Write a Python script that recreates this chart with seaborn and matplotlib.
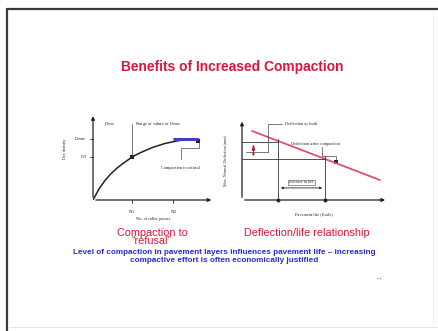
import matplotlib
matplotlib.use("Agg")
import matplotlib.pyplot as plt
import seaborn as sns
import pandas as pd
from matplotlib.lines import Line2D

sns.set_theme(style="white")
plt.rcParams['font.family'] = ['Liberation Sans', 'DejaVu Sans']

# ---- data ----
title = "Benefits of Increased Compaction"
passes = [0, 0.5, 1, 1.5, 2, 2.5, 3, 3.5, 4, 5, 6, 7, 8, 8.75]
density = [0, 1.3, 2.3, 3.1, 3.75, 4.3, 4.8, 5.25, 5.6, 6.2, 6.65, 6.95, 7.15, 7.2]
n_ticks = [3.25, 6.7]
n_labels = ["N$_1$", "N$_2$"]
d_ticks = [5.06, 7.2]
d_labels = ["D$_1$", "D$_{max}$"]
life = [0.7, 9.65]
deflection = [8.85, 2.56]
life_marks = [2.52, 5.8]
defl_marks = [7.44, 5.26]
caption_left = "Compaction to\n\u201crefusal\u201d"
caption_right = "Deflection/life relationship"
body = ("Level of compaction in pavement layers influences pavement life \u2013 increasing\n"
        "compactive effort is often economically justified")

W, H = 439, 331
fig = plt.figure(figsize=(W / 100, H / 100), dpi=100)
fig.patch.set_facecolor("white")

def fx(px):
    return px / W

def fy(py):
    return 1 - py / H

# slide frame
fig.add_artist(Line2D([fx(7), fx(7)], [fy(9), 0], color="#3a3a3a", lw=1.6))
fig.add_artist(Line2D([fx(7), 1], [fy(9), fy(9)], color="#3a3a3a", lw=1.6))
fig.add_artist(Line2D([fx(433), fx(433)], [fy(12), fy(325)], color="#eeeeee", lw=0.8))
fig.add_artist(Line2D([fx(9), 1], [fy(327), fy(327)], color="#e6e6e6", lw=0.8))

red = "#d8173c"
blue = "#2a2ad0"
fig.text(fx(232), fy(67), title, color=red, fontsize=9.9, fontweight="bold",
         ha="center", va="center")

# ---- left diagram ----
axL = fig.add_axes([fx(93), fy(200), fx(120), 85 / H])
axL.set_xlim(0, 10)
axL.set_ylim(0, 10)
for s in axL.spines.values():
    s.set_visible(False)
axL.set_xticks([])
axL.set_yticks([])
axL.patch.set_alpha(0)
axL.annotate("", xy=(10.1, 0), xytext=(0, 0),
             arrowprops=dict(arrowstyle="-|>", lw=0.9, color="#222", mutation_scale=5),
             annotation_clip=False)
axL.annotate("", xy=(0, 10.2), xytext=(0, 0),
             arrowprops=dict(arrowstyle="-|>", lw=0.9, color="#222", mutation_scale=5),
             annotation_clip=False)
dfL = pd.DataFrame({"passes": passes, "density": density})
sns.lineplot(data=dfL, x="passes", y="density", ax=axL, color="#222", lw=1.1)
axL.plot([n_ticks[1], passes[-1]], [density[-1], density[-1]], color="#4040c0", lw=2.2,
         solid_capstyle="butt")
sns.scatterplot(x=[n_ticks[0], passes[-1]], y=[d_ticks[0], d_ticks[1] - 0.3], ax=axL,
                color="#222", s=6, marker="s", linewidth=0)
# tick marks and labels
for x, lab in zip(n_ticks, n_labels):
    axL.plot([x, x], [0, -0.3], color="#222", lw=0.6, clip_on=False)
    axL.text(x, -0.9, lab, fontsize=3.5, ha="center", va="top", family="Liberation Serif")
for y, lab in zip(d_ticks, d_labels):
    axL.plot([0, -0.25], [y, y], color="#222", lw=0.6, clip_on=False)
    axL.text(-0.5, y, lab, fontsize=3.5, ha="right", va="center", family="Liberation Serif")
axL.plot([n_ticks[0], n_ticks[0]], [d_ticks[0], 8.9], color="#444", lw=0.5)
axL.text(0.9, 8.9, "D$_{min}$", fontsize=3.2, va="center", family="Liberation Serif")
axL.text(3.5, 8.9, "Range of values of D$_{max}$", fontsize=3.2, va="center",
         family="Liberation Serif")
axL.plot([passes[-1] + 0.05, passes[-1] + 0.05, 7.3, 7.3],
         [6.8, 6.1, 6.1, 4.8], color="#444", lw=0.5)
axL.text(7.3, 3.8, "Compaction to refusal", fontsize=3.2, ha="center", va="center",
         family="Liberation Serif")
axL.text(5, -2.0, "No. of roller passes", fontsize=3.2, ha="center", va="top",
         family="Liberation Serif")
axL.text(-2.3, 6, "Dry density", fontsize=3.2, ha="center", va="center", rotation=90,
         family="Liberation Serif")

# ---- right diagram ----
axR = fig.add_axes([fx(242), fy(200), fx(143), 78 / H])
axR.set_xlim(0, 10)
axR.set_ylim(0, 10)
for s in axR.spines.values():
    s.set_visible(False)
axR.set_xticks([])
axR.set_yticks([])
axR.patch.set_alpha(0)
axR.annotate("", xy=(10.2, 0), xytext=(0, 0),
             arrowprops=dict(arrowstyle="-|>", lw=0.9, color="#222", mutation_scale=5),
             annotation_clip=False)
axR.annotate("", xy=(0, 10.4), xytext=(0, 0),
             arrowprops=dict(arrowstyle="-|>", lw=0.9, color="#222", mutation_scale=5),
             annotation_clip=False)
dfR = pd.DataFrame({"life": life, "deflection": deflection})
sns.lineplot(data=dfR, x="life", y="deflection", ax=axR, color="#e0506a", lw=1.3)
for x, y in zip(life_marks, defl_marks):
    axR.plot([0, x], [y, y], color="#333", lw=0.6)
    axR.plot([x, x], [y + 0.4, 0], color="#333", lw=0.6)
sns.scatterplot(x=life_marks, y=[0, 0], ax=axR, color="#222", s=8, linewidth=0,
                clip_on=False)
axR.annotate("", xy=(0.8, defl_marks[1]), xytext=(0.8, defl_marks[0]),
             arrowprops=dict(arrowstyle="<|-|>", lw=0.6, color="#c01030", mutation_scale=3))
sns.scatterplot(x=[0.8], y=[6.6], ax=axR, color="#c01030", s=6, linewidth=0)
# callouts
axR.plot([1.85, 1.85, 2.8, 2.8], [6.2, 9.8, 9.8, 9.8], color="#444", lw=0.5, clip_on=False)
axR.plot([0.3, 1.85], [6.2, 6.2], color="#444", lw=0.5)
axR.text(3.0, 9.8, "Deflection as built", fontsize=3.2, va="center",
         family="Liberation Serif")
axR.text(3.4, 7.2, "Deflection after compaction", fontsize=3.2, va="center",
         family="Liberation Serif")
axR.plot([5.6, 5.6, 6.6, 6.6], [6.8, 5.6, 5.6, 4.9], color="#444", lw=0.5)
sns.scatterplot(x=[6.6], y=[4.9], ax=axR, color="#222", s=6, marker="s", linewidth=0)
axR.annotate("", xy=(life_marks[1], 1.55), xytext=(life_marks[0], 1.55),
             arrowprops=dict(arrowstyle="<|-|>", lw=0.6, color="#222", mutation_scale=3))
axR.text(sum(life_marks) / 2, 2.25, "Increase in life", fontsize=3.0, ha="center",
         va="center", family="Liberation Serif",
         bbox=dict(boxstyle="square,pad=0.2", fc="white", ec="#444", lw=0.4))
axR.text(5, -1.6, "Pavement life (Esals)", fontsize=3.2, ha="center", va="top",
         family="Liberation Serif")
axR.text(-1.2, 5, "Max. Normal Deflection (mm)", fontsize=3.0, ha="center", va="center",
         rotation=90, family="Liberation Serif")

# ---- captions ----
fig.text(fx(152), fy(237), caption_left, color=red, fontsize=7.8, ha="center",
         va="center", linespacing=0.75)
fig.text(fx(307), fy(233), caption_right, color=red, fontsize=7.8, ha="center",
         va="center")
fig.text(fx(224), fy(257), body, color=blue, fontsize=5.85, fontweight="bold",
         ha="center", va="center", linespacing=1.2)
fig.text(fx(380), fy(277), "1", color="#999999", fontsize=4, ha="center", va="center",
         rotation=90)

fig.savefig("out.png", dpi=100, facecolor="white")
